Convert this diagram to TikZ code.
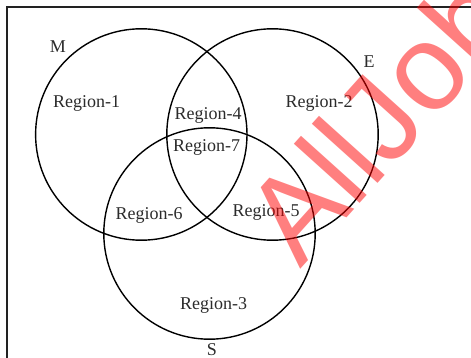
\documentclass[tikz,border=0pt]{standalone}
\usepackage{fontspec}
\setmainfont{Liberation Serif}
\newfontfamily\markfont{Liberation Sans}
\definecolor{ink}{HTML}{2B2B2B}
\definecolor{frameink}{HTML}{222222}
\begin{document}
\begin{tikzpicture}[x=1pt,y=-1pt,
  setcircle/.style={circle, draw=black, line width=1.4pt, minimum size=211.4pt, inner sep=0pt},
  regionlabel/.style={text=ink, font=\fontsize{18}{20}\selectfont, inner sep=0pt},
  setname/.style={text=ink, font=\fontsize{18}{20}\selectfont, inner sep=0pt}]
  \useasboundingbox (0,0) rectangle (471,358);
  \clip (0,0) rectangle (471,358);
  % outer frame (runs off the right and bottom)
  \draw[frameink, line width=1.8pt] (7,7) rectangle (520,420);
  % the three sets
  \node[setcircle] (M) at (141.3,134.5) {};
  \node[setcircle] (E) at (272.5,134.5) {};
  \node[setcircle] (S) at (209.5,233.5) {};
  % set names
  \node[setname] (lM) at (58,47) {M};
  \node[setname] (lE) at (369,62) {E};
  \node[setname] (lS) at (212,350) {S};
  % regions
  \node[regionlabel] (r1) at (86.5,103) {Region-1};
  \node[regionlabel] (r2) at (319,103) {Region-2};
  \node[regionlabel] (r4) at (208,115) {Region-4};
  \node[regionlabel] (r7) at (206.5,147) {Region-7};
  \node[regionlabel] (r6) at (149,215) {Region-6};
  \node[regionlabel] (r5) at (266,212) {Region-5};
  \node[regionlabel] (r3) at (213.5,305) {Region-3};
  % watermark
  \node[anchor=base west, inner sep=0pt, rotate=48, text=red, opacity=0.5,
        font=\markfont\fontsize{122}{140}\selectfont] (wm) at (300,270) {AllJob};
\end{tikzpicture}
\end{document}
